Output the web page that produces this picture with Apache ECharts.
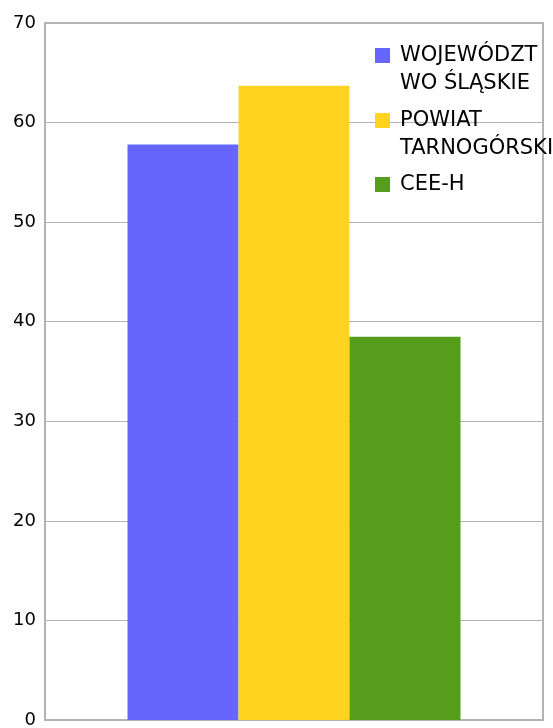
<!DOCTYPE html>
<html>
<head>
<meta charset="utf-8">
<script src="https://cdn.jsdelivr.net/npm/echarts@6/dist/echarts.min.js"></script>
<style>
html, body { margin: 0; width: 553px; height: 728px; overflow: hidden; background: #fff; }
#chart { position: absolute; left: 14px; top: 0; width: 539px; height: 760px; }
</style>
</head>
<body>
<div id="chart"></div>
<script>
const categories = [""];
const seriesNames = ["WOJEWÓDZTWO ŚLĄSKIE", "POWIAT TARNOGÓRSKI", "CEE-H"];
const legendLabels = ["WOJEWÓDZT\nWO ŚLĄSKIE", "POWIAT\nTARNOGÓRSKI", "CEE-H"];
const seriesValues = [57.8, 63.7, 38.5];
const seriesColors = ["#6666ff", "#ffd320", "#579d1c"];
const yMin = 0;
const yMax = 70;
const yStep = 10;

// one legend per item so the icon lines up with the first text line
const legendTops = [13.5, 78.5, 170.5];

let series = [];
let legends = [];
for (let i = 0; i < seriesNames.length; i++) {
  series.push({
    name: seriesNames[i],
    type: "bar",
    data: [seriesValues[i]],
    barWidth: 111,
    barGap: "0%",
    itemStyle: { color: seriesColors[i] },
  });
  // an empty first line puts the first real line at the icon's height
  let label = legendLabels[i].indexOf("\n") !== -1 ? " \n" + legendLabels[i] : legendLabels[i];
  legends.push({
    data: [seriesNames[i]],
    left: 361,
    top: legendTops[i],
    padding: 0,
    icon: "rect",
    itemWidth: 15,
    itemHeight: 15,
    selectedMode: false,
    formatter: function () {
      return label;
    },
    textStyle: {
      fontFamily: "DejaVu Sans",
      fontSize: 21,
      color: "#000",
      lineHeight: 28,
      padding: [0, 0, 0, 5],
    },
  });
}

let myChart = echarts.init(document.getElementById("chart"));
let option = {
  animation: false,
  backgroundColor: "#fff",
  grid: {
    left: 31,
    right: 10,
    top: 23,
    bottom: 40,
    outerBoundsMode: "none",
    show: true,
    borderColor: "#b3b3b3",
    borderWidth: 2,
  },
  legend: legends,
  xAxis: {
    type: "category",
    data: categories,
    axisLine: { show: true, lineStyle: { color: "#b3b3b3", width: 2 } },
    axisTick: { show: false },
    axisLabel: { show: false },
  },
  yAxis: {
    type: "value",
    min: yMin,
    max: yMax,
    interval: yStep,
    axisLine: { show: true, lineStyle: { color: "#b3b3b3", width: 2 } },
    axisTick: { show: false },
    axisLabel: {
      margin: 9,
      color: "#000",
      fontFamily: "DejaVu Sans",
      fontSize: 18,
    },
    splitLine: { lineStyle: { color: "#b3b3b3", width: 1 } },
  },
  series: series,
};
myChart.setOption(option);
</script>
</body>
</html>
